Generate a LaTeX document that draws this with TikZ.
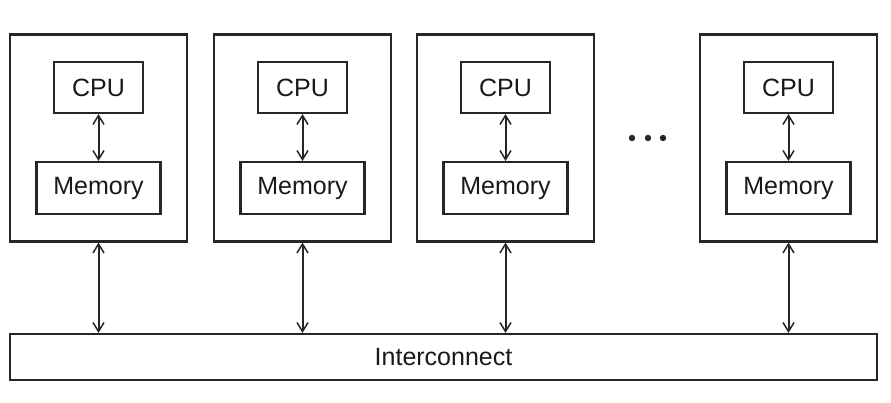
\documentclass[tikz,border=0pt]{standalone}
\usepackage{fontspec}
\setmainfont{Liberation Sans}
\usetikzlibrary{arrows.meta}
\begin{document}
\begin{tikzpicture}[x=1pt,y=-1pt,
  box/.style={draw=black!85,line width=2.1pt,inner sep=0pt},
  lbl/.style={font=\fontsize{25}{29}\selectfont,text=black!90},
  link/.style={draw=black!85,line width=2pt,{Straight Barb[length=9pt,width=11pt,line width=1.5pt]}-{Straight Barb[length=9pt,width=11pt,line width=1.5pt]}}]
\path[use as bounding box] (0,0) rectangle (891,403);
\foreach \i/\ox in {1/0,2/204,3/407,4/690}{
  \node[box,minimum width=177pt,minimum height=207pt] (node\i) at (98.5+\ox,138) {};
  \node[box,lbl,minimum width=89pt,minimum height=51pt] (cpu\i) at (98.5+\ox,87.5) {CPU};
  \node[box,lbl,minimum width=124pt,minimum height=52pt] (mem\i) at (98.5+\ox,188) {Memory};
  \draw[link] (cpu\i.south) -- (mem\i.north);
}
\node[box,lbl,minimum width=867pt,minimum height=46pt] (ic) at (443.5,357) {Interconnect};
\foreach \i in {1,...,4}{
  \draw[link] (node\i.south) -- (node\i.south |- ic.north);
}
\foreach \k/\x in {1/632,2/648,3/663}{
  \fill[black!85] (\x,138) circle (3.2pt) node[inner sep=0pt] (dot\k) {};
}
\end{tikzpicture}
\end{document}
